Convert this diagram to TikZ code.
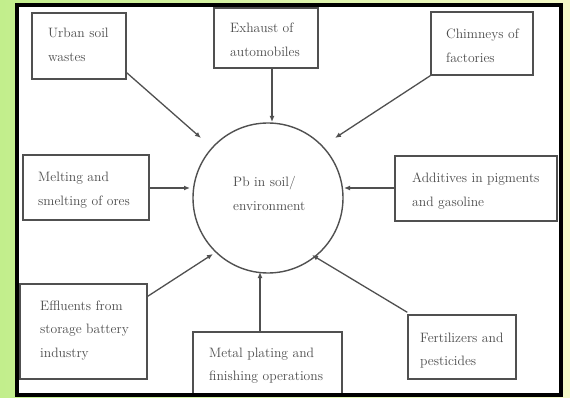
\documentclass[tikz,border=0pt]{standalone}
\usetikzlibrary{arrows.meta,calc}
\definecolor{bgleft}{HTML}{C2EE8C}
\definecolor{bgright}{HTML}{F4F9C6}
\definecolor{edge}{HTML}{505050}
\definecolor{ink}{HTML}{4C4C4C}
\begin{document}
\begin{tikzpicture}[x=1pt,y=-1pt,
  box/.style={draw=edge,line width=1.4pt,fill=white,rectangle,inner sep=0pt},
  txt/.style={anchor=base west,inner sep=0pt,text width=160pt,align=left,text=ink,
    font=\fontsize{13.6}{23.5}\selectfont},
  arr/.style={draw=edge,line width=1.3pt,-{Latex[length=6pt,width=5pt]}}]
\useasboundingbox (0,0) rectangle (570,398);
\shade[left color=bgleft,right color=bgright] (0,0) rectangle (570,398);
\fill[white] (17,5) rectangle (561,395);
% centre
\node[draw=edge,line width=1.4pt,circle,minimum size=150pt,inner sep=0pt] (c) at (268,198) {};
\node[txt] (ct) at (233,187) {Pb in soil/\\environment};
% boxes
\node[box,minimum width=94pt,minimum height=66pt] (urban) at (79,46) {};
\node[txt] (urbant) at (48,38) {Urban soil\\wastes};
\node[box,minimum width=104pt,minimum height=60pt] (exh) at (266,38) {};
\node[txt] (exht) at (230,33) {Exhaust of\\automobiles};
\node[box,minimum width=102pt,minimum height=63pt] (chim) at (482,43.5) {};
\node[txt] (chimt) at (446,39) {Chimneys of\\factories};
\node[box,minimum width=126pt,minimum height=65pt] (melt) at (86,187.5) {};
\node[txt] (meltt) at (38,182) {Melting and\\smelting of ores};
\node[box,minimum width=162pt,minimum height=65pt] (add) at (476,188.5) {};
\node[txt] (addt) at (412,183) {Additives in pigments\\and gasoline};
\node[box,minimum width=127pt,minimum height=95pt] (eff) at (83.5,331.5) {};
\node[txt] (efft) at (40,310) {Effluents from\\storage battery\\industry};
\node[box,minimum width=149pt,minimum height=64pt] (metal) at (267.5,364) {};
\node[txt] (metalt) at (209,357) {Metal plating and\\finishing operations};
\node[box,minimum width=108pt,minimum height=64pt] (fert) at (462,347) {};
\node[txt] (fertt) at (420,342) {Fertilizers and\\pesticides};
% arrow ends
\coordinate (eu) at (201,138);
\coordinate (ee) at (272,122);
\coordinate (ec) at (335,138);
\coordinate (em) at (190,188);
\coordinate (ea) at (344,188);
\coordinate (ef) at (213,254);
\coordinate (ep) at (260,272);
\coordinate (ez) at (312,255);
\draw[arr] ($(urban.south east)+(0,-7)$) -- (eu);
\draw[arr] (exh.south -| ee) -- (ee);
\draw[arr] (chim.south west) -- (ec);
\draw[arr] (melt.east |- em) -- (em);
\draw[arr] (add.west |- ea) -- (ea);
\draw[arr] ($(eff.north east)+(0,13)$) -- (ef);
\draw[arr] (metal.north -| ep) -- (ep);
\draw[arr] ($(fert.north west)+(0,-2)$) -- (ez);
% frame
\draw[black,line width=4.5pt] (17,5) rectangle (561,395);
\end{tikzpicture}
\end{document}
